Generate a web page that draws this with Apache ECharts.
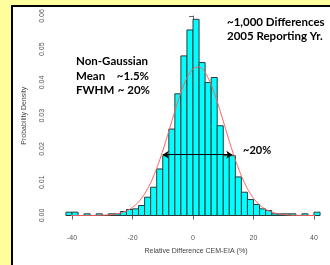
<!DOCTYPE html>
<html><head><meta charset="utf-8">
<script src="https://cdn.jsdelivr.net/npm/echarts/dist/echarts.min.js"></script>
<style>html,body{margin:0;padding:0;background:#fffe9c}#c{width:330px;height:265px}</style>
</head><body><div id="c"></div>
<script>
// Histogram bin edges (%), and density per bin
const binEdges = [-42,-40,-38,-36,-34,-32,-30,-28,-26,-24,-22,-20,-18,-16,-14,-12,-10,-8,-6,-4,-2,0,2,4,6,8,10,12,14,16,18,20,22,24,26,28,30,32,34,36,38,40,42];
const density = [0.001,0.001,0,0.0005,0,0.0005,0,0.0005,0.0005,0.0012,0.0018,0.002,0.003,0.0055,0.0085,0.014,0.018,0.026,0.0366,0.048,0.0558,0.059,0.046,0.040,0.0415,0.027,0.018,0.018,0.0116,0.007,0.0048,0.0033,0.002,0.0015,0.0005,0.0005,0.0005,0.0005,0,0.0005,0,0.001];
// Fitted normal curve
const curveX = [-44,-42,-40,-38,-36,-34,-32,-30,-28,-26,-24,-22,-20,-18,-16,-14,-12,-10,-8,-6,-4,-2,0,2,4,6,8,10,12,14,16,18,20,22,24,26,28,30,32,34,36,38,40,42,44];
const curveY = [0,0,0,0.00001,0.00001,0.00002,0.00004,0.00009,0.00018,0.00038,0.00074,0.00137,0.00242,0.00406,0.00648,0.00983,0.01418,0.01944,0.02534,0.03141,0.03701,0.04147,0.04417,0.04473,0.04307,0.03942,0.03431,0.02839,0.02234,0.01671,0.01188,0.00803,0.00516,0.00316,0.00183,0.00101,0.00053,0.00027,0.00013,0.00006,0.00002,0.00001,0,0,0];
// FWHM arrow
const arrowX = [-10, 13];
const arrowY = 0.0183;
// Tick settings
const xTicks = {min: -40, max: 40, step: 20};
const yTicks = {min: 0, max: 0.06, step: 0.01};
// Annotations
const notes = ['Non-Gaussian', 'Mean', '~1.5%', 'FWHM', '~ 20%', '~1,000 Differences', '2005 Reporting Yr.', '~20%'];

const barData = density.map((d, i) => [binEdges[i], binEdges[i + 1], d]);
const curveData = curveX.map((x, i) => [x, curveY[i]]);

const chart = echarts.init(document.getElementById('c'), null, {renderer: 'canvas'});
const noteFont = 'bold 11.5px Lato';
const axisFont = 'Liberation Sans';
chart.setOption({
  animation: false,
  backgroundColor: '#fffe9c',
  grid: {left: 72, right: 16, top: 16, bottom: 49.5},
  xAxis: {
    type: 'value', min: xTicks.min, max: xTicks.max, interval: xTicks.step, offset: 10,
    axisLine: {show: true, lineStyle: {color: '#666', width: 1}},
    axisTick: {show: true, length: 4, lineStyle: {color: '#666'}},
    axisLabel: {fontSize: 7, color: '#555', margin: 9, fontFamily: axisFont},
    splitLine: {show: false},
    name: 'Relative Difference CEM-EIA (%)', nameLocation: 'middle', nameGap: 22,
    nameTextStyle: {fontSize: 7, color: '#444', fontFamily: axisFont, padding: [0, 0, 0, 6]}
  },
  yAxis: {
    type: 'value', min: yTicks.min, max: yTicks.max, interval: yTicks.step, offset: 17,
    axisLine: {show: true, lineStyle: {color: '#666', width: 1}},
    axisTick: {show: true, length: 4, lineStyle: {color: '#666'}},
    axisLabel: {rotate: 90, fontSize: 7, color: '#555', margin: 9, fontFamily: axisFont, formatter: v => v.toFixed(2)},
    splitLine: {show: false},
    name: 'Probability Density', nameLocation: 'middle', nameGap: 27,
    nameTextStyle: {fontSize: 7, color: '#444', fontFamily: axisFont}
  },
  graphic: [
    {type: 'rect', z: -100, shape: {x: 12, y: 6, width: 340, height: 280}, style: {fill: '#fff', stroke: '#000', lineWidth: 2}},
    {type: 'text', z: 100, style: {text: notes[0], x: 76, y: 61, font: noteFont, fill: '#000', verticalAlign: 'middle', textVerticalAlign: 'middle'}},
    {type: 'text', z: 100, style: {text: notes[1], x: 76, y: 76, font: noteFont, fill: '#000', verticalAlign: 'middle', textVerticalAlign: 'middle'}},
    {type: 'text', z: 100, style: {text: notes[2], x: 149, y: 76, font: noteFont, fill: '#000', align: 'right', textAlign: 'right', verticalAlign: 'middle', textVerticalAlign: 'middle'}},
    {type: 'text', z: 100, style: {text: notes[3], x: 76, y: 90, font: noteFont, fill: '#000', verticalAlign: 'middle', textVerticalAlign: 'middle'}},
    {type: 'text', z: 100, style: {text: notes[4], x: 150, y: 90, font: noteFont, fill: '#000', align: 'right', textAlign: 'right', verticalAlign: 'middle', textVerticalAlign: 'middle'}},
    {type: 'text', z: 100, style: {text: notes[5], x: 227, y: 22, font: noteFont, fill: '#000', verticalAlign: 'middle', textVerticalAlign: 'middle'}},
    {type: 'text', z: 100, style: {text: notes[6], x: 227, y: 36, font: noteFont, fill: '#000', verticalAlign: 'middle', textVerticalAlign: 'middle'}},
    {type: 'text', z: 100, style: {text: notes[7], x: 243, y: 150, font: 'bold 11px Lato', fill: '#000', verticalAlign: 'middle', textVerticalAlign: 'middle'}}
  ],
  series: [
    {
      type: 'custom', clip: false, data: barData, encode: {x: [0, 1], y: 2}, z: 2,
      renderItem: (params, api) => {
        const p0 = api.coord([api.value(0), api.value(2)]);
        const p1 = api.coord([api.value(1), 0]);
        return {type: 'rect', shape: {x: p0[0], y: p0[1], width: p1[0] - p0[0], height: p1[1] - p0[1]},
          style: {fill: '#00ffff', stroke: '#2a3a3a', lineWidth: 1}};
      }
    },
    {
      type: 'line', clip: false, data: curveData, showSymbol: false, smooth: 0.2, z: 3,
      lineStyle: {color: '#ff6060', width: 1},
      markLine: {
        silent: true, symbol: ['arrow', 'arrow'], symbolSize: 6, z: 4,
        lineStyle: {color: '#000', width: 1, type: 'solid'}, label: {show: false},
        data: [[{coord: [arrowX[0], arrowY]}, {coord: [arrowX[1], arrowY]}]]
      }
    }
  ]
});
</script></body></html>
